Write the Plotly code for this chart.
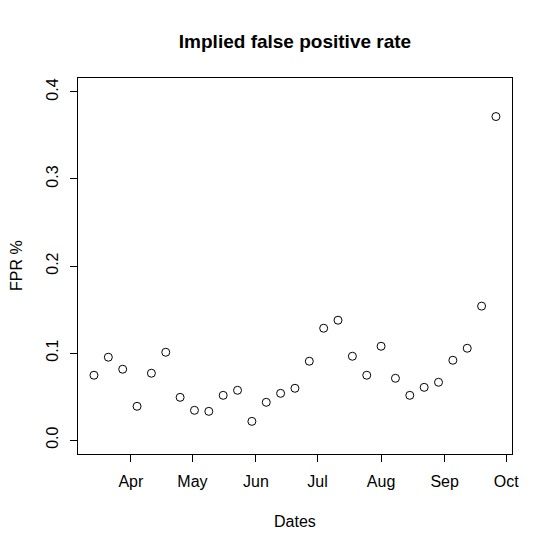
import plotly.graph_objects as go

# weekly observation dates
dates = ['2020-03-14', '2020-03-21', '2020-03-28', '2020-04-04', '2020-04-11',
         '2020-04-18', '2020-04-25', '2020-05-02', '2020-05-09', '2020-05-16',
         '2020-05-23', '2020-05-30', '2020-06-06', '2020-06-13', '2020-06-20',
         '2020-06-27', '2020-07-04', '2020-07-11', '2020-07-18', '2020-07-25',
         '2020-08-01', '2020-08-08', '2020-08-15', '2020-08-22', '2020-08-29',
         '2020-09-05', '2020-09-12', '2020-09-19', '2020-09-26']

# implied false positive rate
fpr = [0.0745, 0.0952, 0.0814, 0.0388, 0.0768, 0.1009, 0.0491, 0.0342, 0.0330,
       0.0514, 0.0572, 0.0215, 0.0434, 0.0537, 0.0595, 0.0906, 0.1285, 0.1377,
       0.0963, 0.0745, 0.1078, 0.0710, 0.0514, 0.0606, 0.0664, 0.0917, 0.1055,
       0.1539, 0.3717]

month_ticks = ['2020-04-01', '2020-05-01', '2020-06-01', '2020-07-01',
               '2020-08-01', '2020-09-01', '2020-10-01']
month_labels = ['Apr', 'May', 'Jun', 'Jul', 'Aug', 'Sep', 'Oct']
y_ticks = [0.0, 0.1, 0.2, 0.3, 0.4]
y_labels = ['0.0', '0.1', '0.2', '0.3', '0.4']

font = 'Arial, Liberation Sans, sans-serif'

fig = go.Figure()
fig.add_trace(go.Scatter(x=dates, y=fpr, mode='markers',
                         marker=dict(symbol='circle-open', size=8,
                                     color='black', line=dict(width=1, color='black')),
                         showlegend=False))

# page body adds an 8px offset, margins are set to compensate
fig.update_layout(
    width=553, height=552,
    margin=dict(l=70, r=49, t=70, b=106),
    paper_bgcolor='white', plot_bgcolor='white',
    font=dict(family=font, size=16, color='black'),
    title=dict(text='<b>Implied false positive rate</b>', x=0.5, xref='paper',
               y=1 - 33 / 552, yref='container', yanchor='middle', xanchor='center',
               font=dict(size=19, family=font, color='black')),
    annotations=[
        dict(text='Dates', xref='paper', yref='paper', x=0.5, y=-67 / 376,
             showarrow=False, xanchor='center', yanchor='middle',
             font=dict(size=16)),
        dict(text='FPR %', xref='paper', yref='paper', x=-62 / 434, y=0.5,
             showarrow=False, xanchor='center', yanchor='middle', textangle=-90,
             font=dict(size=16)),
    ],
)

fig.update_xaxes(range=['2020-03-06 05:00', '2020-10-03 20:00'],
                 tickvals=month_ticks, ticktext=month_labels,
                 showgrid=False, zeroline=False,
                 showline=True, linecolor='black', linewidth=1, mirror=True,
                 ticks='outside', ticklen=7, tickcolor='black', tickwidth=1,
                 ticklabelstandoff=6)
fig.update_yaxes(range=[-0.016, 0.416],
                 tickvals=y_ticks, ticktext=y_labels, tickangle=-90,
                 showgrid=False, zeroline=False,
                 showline=True, linecolor='black', linewidth=1, mirror=True,
                 ticks='outside', ticklen=7, tickcolor='black', tickwidth=1,
                 ticklabelstandoff=6)

fig.write_html("out.html")
